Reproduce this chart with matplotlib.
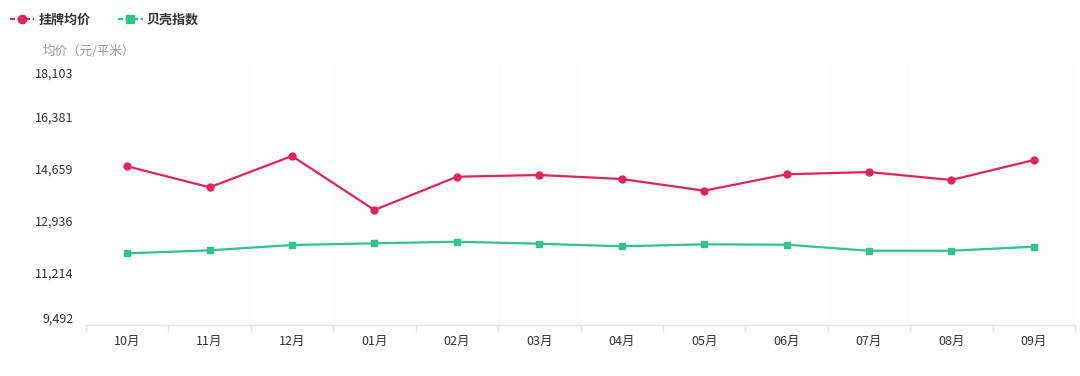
import matplotlib
matplotlib.use("Agg")
import matplotlib.pyplot as plt
import matplotlib.transforms as mtransforms
from matplotlib.lines import Line2D
import numpy as np

plt.rcParams["font.family"] = ["Noto Sans CJK SC", "DejaVu Sans"]

months = ["10月", "11月", "12月", "01月", "02月", "03月", "04月", "05月", "06月", "07月", "08月", "09月"]
listing_price = [14728, 14035, 15067, 13286, 14384, 14441, 14309, 13923, 14464, 14539, 14276, 14935]
beike_index = [11857, 11956, 12131, 12187, 12240, 12174, 12088, 12154, 12141, 11943, 11943, 12075]
y_ticks = [9492, 11214, 12936, 14659, 16381, 18103]

RED = "#e0245e"
GREEN = "#2fc48d"
AXIS = "#e3e3e3"
TEXT = "#333333"

fig = plt.figure(figsize=(10.8, 3.76), dpi=100)
ax = fig.add_axes([0.0796, 0.1356, 0.9158, 0.6942])

x = np.arange(len(months))
ax.plot(x, listing_price, color=RED, linewidth=1.6, marker="o", markersize=5, zorder=3)
ax.plot(x, beike_index, color=GREEN, linewidth=1.6, marker="s", markersize=5, zorder=3)

ax.set_xlim(-0.5, len(months) - 0.5)
ax.set_ylim(y_ticks[0], y_ticks[-1])

# barely visible alternating bands like the original background
for i in range(len(months)):
    if i % 2 == 1:
        ax.axvspan(i - 0.5, i + 0.5, color="#fdfdfe", zorder=0, lw=0)

for s in ["top", "right", "left"]:
    ax.spines[s].set_visible(False)
ax.spines["bottom"].set_color(AXIS)
ax.spines["bottom"].set_linewidth(1)

ax.set_xticks(x)
ax.set_xticklabels(months, fontsize=9, color=TEXT)
ax.set_xticks(np.arange(-0.5, len(months)), minor=True)
ax.tick_params(axis="x", which="major", length=0, pad=7)
ax.tick_params(axis="x", which="minor", length=5, color=AXIS, width=1)

ax.set_yticks(y_ticks)
ax.set_yticklabels([f"{v:,}" for v in y_ticks], fontsize=9, color=TEXT)
ax.tick_params(axis="y", length=0, pad=9)
labels = ax.get_yticklabels()
labels[0].set_transform(labels[0].get_transform() + mtransforms.ScaledTranslation(0, 7 / 100, fig.dpi_scale_trans))
labels[-1].set_transform(labels[-1].get_transform() + mtransforms.ScaledTranslation(0, -9 / 100, fig.dpi_scale_trans))

fig.text(43 / 1080, 1 - 51 / 376, "均价（元/平米）", fontsize=9, color="#999999", va="center", ha="left")

handles = [
    Line2D([], [], color=RED, linewidth=1.6, linestyle=(0, (2.2, 1.2)), marker="o", markersize=6),
    Line2D([], [], color=GREEN, linewidth=1.6, linestyle=(0, (2.2, 1.2)), marker="s", markersize=6),
]
leg = fig.legend(handles, ["挂牌均价", "贝壳指数"], loc="upper left", bbox_to_anchor=(-0.002, 0.998),
                 ncol=2, frameon=False, handlelength=1.9, handletextpad=0.3, columnspacing=2.1,
                 prop={"size": 9.4, "weight": "bold"})
for t in leg.get_texts():
    t.set_color(TEXT)

fig.savefig("out.png", dpi=100, facecolor="white")
